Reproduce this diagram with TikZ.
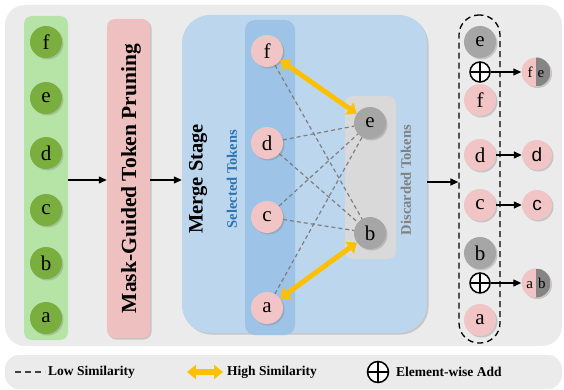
\documentclass[tikz,border=0pt]{standalone}
\usepackage{fontspec}
\setmainfont{Liberation Serif}
\setsansfont{Liberation Sans}
\usetikzlibrary{positioning,shadows,arrows.meta}

\definecolor{bgGray}{HTML}{EBEBEB}
\definecolor{inGreen}{HTML}{B5E4A6}
\definecolor{tokGreen}{HTML}{7AAE3F}
\definecolor{prunePink}{HTML}{EEC0C0}
\definecolor{tokPink}{HTML}{F1C5C5}
\definecolor{mergeBlue}{HTML}{BCD6EE}
\definecolor{selBlue}{HTML}{9DC3E6}
\definecolor{discGray}{HTML}{D9D9D9}
\definecolor{tokGray}{HTML}{A6A6A6}
\definecolor{halfGray}{HTML}{858585}
\definecolor{lineGray}{HTML}{7F7F7F}
\definecolor{simOrange}{HTML}{FFC000}
\definecolor{selText}{HTML}{2B74B0}

\tikzset{
  shade/.style={drop shadow={shadow xshift=1.5pt, shadow yshift=-1.5pt, opacity=0.35}},
  panel/.style={rectangle, fill=bgGray, inner sep=0pt},
  column/.style={rectangle, rounded corners=8pt, inner sep=0pt},
  tok/.style={circle, minimum size=32pt, inner sep=0pt, shade, font=\fontsize{21}{21}\selectfont},
  tokg/.style={tok, fill=tokGreen},
  tokp/.style={tok, fill=tokPink},
  tokd/.style={tok, fill=tokGray},
  halftok/.style={circle, minimum size=29pt, inner sep=0pt, fill=tokPink, shade,
    font=\fontsize{15}{15}\selectfont,
    path picture={\fill[halfGray] (path picture bounding box.north) rectangle (path picture bounding box.south east);}},
  addop/.style={circle, draw, line width=1.5pt, fill=white, minimum size=20pt, inner sep=0pt,
    path picture={\draw[line width=1.5pt] (path picture bounding box.north) -- (path picture bounding box.south)
      (path picture bounding box.west) -- (path picture bounding box.east);}},
  low/.style={draw=lineGray, line width=1.2pt, dash pattern=on 4pt off 3pt},
  high/.style={draw=simOrange, line width=5pt, {Triangle[length=9pt,width=14pt]}-{Triangle[length=9pt,width=14pt]}},
  flow/.style={-{Triangle[length=8pt,width=7pt]}, line width=1.3pt},
  title/.style={rotate=90, font=\fontsize{21}{21}\selectfont\bfseries},
  legtxt/.style={anchor=west, inner sep=0pt, font=\fontsize{13.5}{13.5}\selectfont\bfseries}
}

\begin{document}
\begin{tikzpicture}[x=1pt,y=-1pt]
  \useasboundingbox (0,0) rectangle (564,390);

  % ---------------------- background panels ----------------------
  \node[panel, rounded corners=20pt, minimum width=557pt, minimum height=341pt] (main) at (283.5,175.5) {};
  \node[panel, rounded corners=14pt, minimum width=557pt, minimum height=34pt] (legend) at (283.5,372) {};

  % ---------------------- input tokens ----------------------
  \node[column, fill=inGreen, minimum width=44pt, minimum height=324pt] (inCol) at (46,178) {};
  \foreach \name/\y in {a/318, b/263, c/210, d/153, e/98, f/42} {
    \node[tokg] (in\name) at (46,\y) {\name};
  }

  % ---------------------- pruning ----------------------
  \node[column, fill=prunePink, shade, minimum width=43pt, minimum height=319pt] (prune) at (128.5,178.5) {};
  \node[title, font=\fontsize{21.5}{21.5}\selectfont\bfseries] (pruneTxt) at (131,178.5) {Mask-Guided Token Pruning};

  % ---------------------- merge stage ----------------------
  \node[column, rounded corners=28pt, fill=mergeBlue, shade, minimum width=245pt, minimum height=318pt] (merge) at (304.5,174) {};
  \node[title, font=\fontsize{20.5}{20.5}\selectfont\bfseries] (mergeTxt) at (198,179) {Merge Stage};
  \node[rotate=90, text=selText, font=\fontsize{14.5}{14.5}\selectfont\bfseries] (selTxt) at (232,179) {Selected Tokens};
  \node[column, rounded corners=10pt, fill=selBlue, minimum width=50pt, minimum height=315pt] (selCol) at (270,177.5) {};
  \node[column, fill=discGray, minimum width=51pt, minimum height=163pt] (discCol) at (370.5,177.5) {};
  \node[rotate=90, text=gray, font=\fontsize{14.5}{14.5}\selectfont\bfseries] (discTxt) at (406,180) {Discarded Tokens};

  \foreach \name/\y in {a/308, c/217, d/143, f/51} {
    \node[tokp] (s\name) at (267,\y) {\name};
  }
  \node[tokd] (de) at (370,123) {e};
  \node[tokd] (db) at (370,233) {b};

  % low similarity pairs
  \foreach \u/\v in {sf/db, sd/de, sd/db, sc/de, sc/db, sa/de} {
    \draw[low] (\u) -- (\v);
  }
  % high similarity pairs
  \draw[high] (sf) -- (de);
  \draw[high] (sa) -- (db);

  % ---------------------- merged output ----------------------
  \node[draw, dashed, line width=1.3pt, dash pattern=on 6pt off 4pt, rounded corners=20pt,
        minimum width=41pt, minimum height=328pt] (outBox) at (479.5,179) {};
  \node[tokd] (oe) at (480,42) {e};
  \node[addop] (plus1) at (480,72) {};
  \node[tokp] (of) at (480,100) {f};
  \node[tokp] (od) at (480,155) {d};
  \node[tokp] (oc) at (480,205) {c};
  \node[tokd] (ob) at (480,253) {b};
  \node[addop] (plus2) at (480,283) {};
  \node[tokp] (oa) at (480,320) {a};

  \node[halftok] (mfe) at (536,72) {f\hspace{5pt}e};
  \node[tokp, minimum size=30pt, font=\fontsize{19}{19}\sffamily] (md) at (537,155) {d};
  \node[tokp, minimum size=30pt, font=\fontsize{19}{19}\sffamily] (mc) at (537,205) {c};
  \node[halftok] (mab) at (536,283) {a\hspace{5pt}b};

  \draw[flow] (plus1) -- (mfe);
  \draw[flow] (od) -- (md);
  \draw[flow] (oc) -- (mc);
  \draw[flow] (plus2) -- (mab);

  % ---------------------- stage arrows ----------------------
  \draw[flow] (inCol.east |- 0,180) -- (prune.west |- 0,180);
  \draw[flow] (prune.east |- 0,180) -- (merge.west |- 0,180);
  \draw[flow] (merge.east |- 0,182) -- (outBox.west |- 0,182);

  % ---------------------- legend ----------------------
  \coordinate (lowA) at (15,372);
  \coordinate (lowB) at (45,372);
  \draw[low, draw=darkgray, dash pattern=on 6pt off 4pt] (lowA) -- (lowB);
  \node[legtxt] (lowTxt) at (48,372) {Low Similarity};
  \coordinate (highA) at (187,372);
  \coordinate (highB) at (223,372);
  \draw[high, line width=6pt] (highA) -- (highB);
  \node[legtxt] (highTxt) at (227,372) {High Similarity};
  \node[addop, minimum size=21pt] (addLeg) at (378,372) {};
  \node[legtxt] (addTxt) at (396,372) {Element-wise Add};
\end{tikzpicture}
\end{document}
